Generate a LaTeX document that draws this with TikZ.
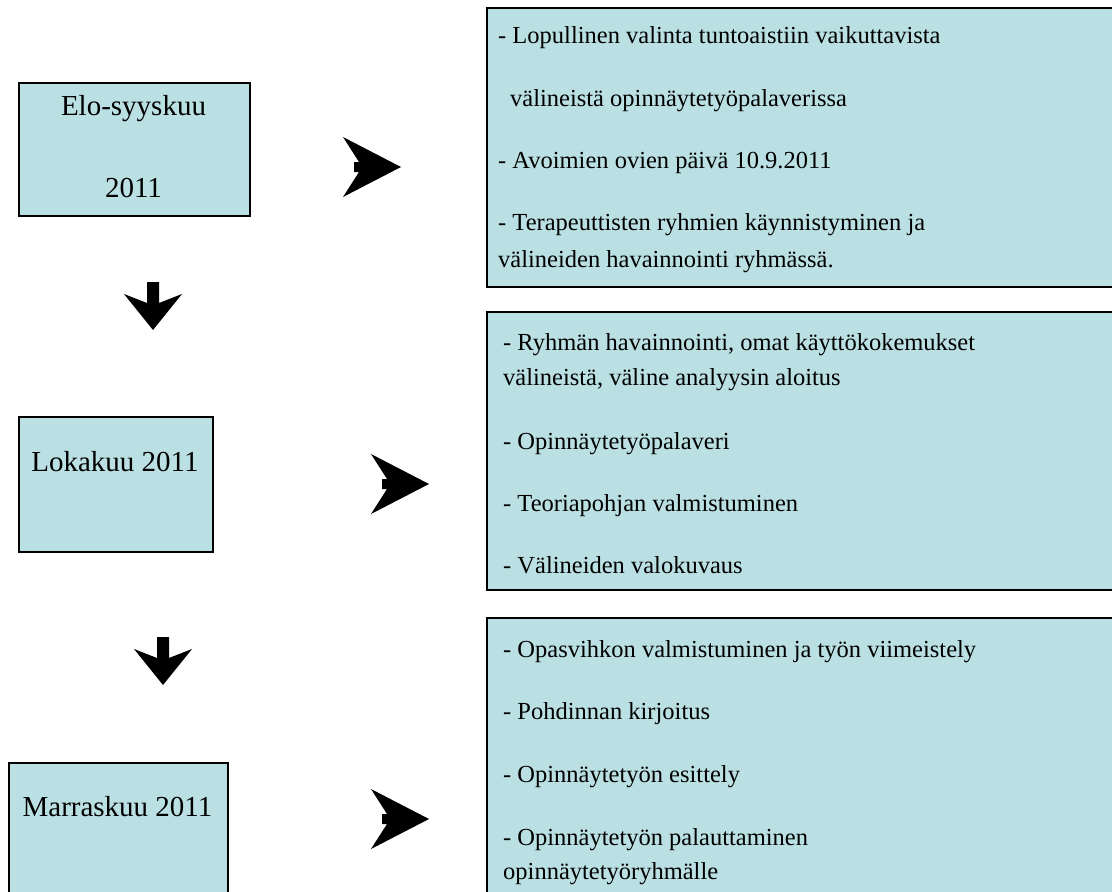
\documentclass[tikz,border=0pt]{standalone}
\usepackage{fontspec}
\setmainfont{Liberation Serif}
\definecolor{boxfill}{RGB}{187,224,227}
\tikzset{
  x=1pt, y=-1pt,
  period/.style={draw=black, line width=1.8pt, fill=boxfill, inner sep=0pt,
                 anchor=north west, minimum width=#1},
  month/.style={anchor=base, inner sep=0pt, font=\fontsize{29}{37}\selectfont},
  item/.style={anchor=base west, inner sep=0pt, font=\fontsize{24.5}{37}\selectfont},
  % chevron arrow pointing right, origin at its upper back corner
  pics/rightchev/.style={code={
    \fill[black] (0,0) -- (58,30) -- (0,60) -- (16,35) -- (11,35)
                 -- (11,25) -- (16,25) -- cycle;}},
  % block arrow pointing down, origin at the top middle of its stem
  pics/downchev/.style={code={
    \fill[black] (-6,0) -- (6,0) -- (6,21) -- (29,12) -- (0,48)
                 -- (-29,12) -- (-6,21) -- cycle;}},
}
\begin{document}
\begin{tikzpicture}
\useasboundingbox (0,0) rectangle (1112,892);
\clip (0,0) rectangle (1112,892);

% month boxes
\node[period=231pt, minimum height=133pt] (m1) at (18,82) {};
\node[period=194pt, minimum height=135pt] (m2) at (18,416) {};
\node[period=219pt, minimum height=150pt] (m3) at (8,762) {};

\node[month] (m1a) at (133.5,115) {Elo-syyskuu};
\node[month] (m1b) at (133.5,197) {2011};
\node[month] (m2a) at (115,471) {Lokakuu 2011};
\node[month] (m3a) at (117.5,816) {Marraskuu 2011};

% task boxes
\node[period=650pt, minimum height=279pt] (b1) at (486,7) {};
\node[period=650pt, minimum height=278pt] (b2) at (486,311) {};
\node[period=650pt, minimum height=300pt] (b3) at (486,617) {};

\node[item] (b1a) at (498,43)  {- Lopullinen valinta tuntoaistiin vaikuttavista};
\node[item] (b1b) at (510,106) {välineistä opinnäytetyöpalaverissa};
\node[item] (b1c) at (498,168) {- Avoimien ovien päivä 10.9.2011};
\node[item] (b1d) at (498,230) {- Terapeuttisten ryhmien käynnistyminen ja};
\node[item] (b1e) at (498,267) {välineiden havainnointi ryhmässä.};

\node[item] (b2a) at (503,350) {- Ryhmän havainnointi, omat käyttökokemukset};
\node[item] (b2b) at (503,385) {välineistä, väline analyysin aloitus};
\node[item] (b2c) at (503,449) {- Opinnäytetyöpalaveri};
\node[item] (b2d) at (503,511) {- Teoriapohjan valmistuminen};
\node[item] (b2e) at (503,573) {- Välineiden valokuvaus};

\node[item] (b3a) at (503,657) {- Opasvihkon valmistuminen ja työn viimeistely};
\node[item] (b3b) at (503,719) {- Pohdinnan kirjoitus};
\node[item] (b3c) at (503,782) {- Opinnäytetyön esittely};
\node[item] (b3d) at (503,845) {- Opinnäytetyön palauttaminen};
\node[item] (b3e) at (503,879) {opinnäytetyöryhmälle};

% arrows between the stages
\pic at (343,137) {rightchev};
\pic at (371,454) {rightchev};
\pic at (371,789) {rightchev};
\pic at (153,282) {downchev};
\pic at (163,637) {downchev};
\end{tikzpicture}
\end{document}
